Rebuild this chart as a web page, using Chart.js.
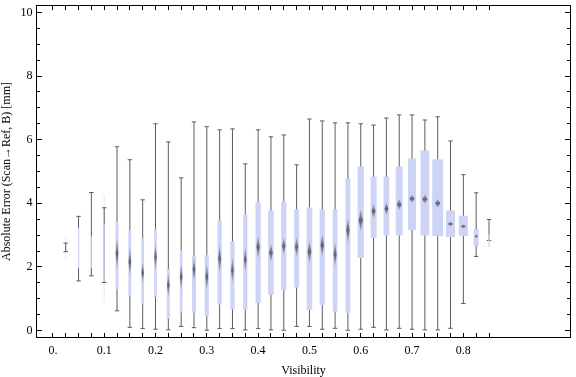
<!DOCTYPE html>
<html>
<head>
<meta charset="utf-8">
<script src="https://cdn.jsdelivr.net/npm/chart.js@4.4.1/dist/chart.umd.min.js"></script>
<style>
  html, body { margin: 0; padding: 0; background: #fff; }
  #chart { display: block; }
</style>
</head>
<body>
<canvas id="chart" width="576" height="377"></canvas>
<script>
/* Box-whisker chart: absolute error vs visibility */

// === DATA ===
const visibility = [0.025, 0.05, 0.075, 0.1, 0.125, 0.15, 0.175, 0.2, 0.225, 0.25, 0.275, 0.3,
    0.325, 0.35, 0.375, 0.4, 0.425, 0.45, 0.475, 0.5, 0.525, 0.55, 0.575, 0.6,
    0.625, 0.65, 0.675, 0.7, 0.725, 0.75, 0.775, 0.8, 0.825, 0.85];

const whiskerLo = [2.48, 1.56, 1.72, 1.51, 0.62, 0.10, 0.06, 0.04, 0.02, 0.13, 0.09, 0.01,
    0.06, 0.06, 0.02, 0.06, 0.02, 0.01, 0.13, 0.13, 0.04, 0.07, 0.01, 0.04,
    0.10, 0.02, 0.07, 0.04, 0.02, 0.02, 0.07, 0.85, 2.33, 2.83];
const whiskerHi = [2.75, 3.59, 4.34, 3.86, 5.78, 5.37, 4.11, 6.50, 5.93, 4.80, 6.56, 6.41,
    6.31, 6.34, 5.24, 6.31, 6.09, 6.15, 5.21, 6.65, 6.59, 6.53, 6.53, 6.50,
    6.46, 6.68, 6.78, 6.78, 6.62, 6.72, 5.96, 4.90, 4.33, 3.49];

const boxLo = [null, 1.96, 1.96, 1.53, 1.30, 1.08, 0.82, 1.06, 0.37, 0.56, 0.56, 0.46,
    0.81, 0.67, 0.65, 0.87, 1.12, 1.28, 1.35, 0.65, 0.81, 0.59, 0.56, 2.28,
    2.91, 2.99, 2.99, 3.16, 2.99, 2.97, 2.94, 2.97, 2.66, 2.63];
const boxHi = [null, 3.23, 2.96, 3.34, 3.43, 3.15, 2.90, 3.20, 1.93, 2.52, 2.34, 2.37,
    3.46, 2.81, 3.65, 4.03, 3.77, 4.06, 3.81, 3.87, 3.81, 3.81, 4.78, 5.16,
    4.84, 4.84, 5.16, 5.41, 5.66, 5.38, 3.78, 3.61, 3.18, 3.03];

// relative bin weight (box width share)
const binWeight = [0, 0.09, 0.09, 0.09, 0.27, 0.27, 0.25, 0.25, 0.27, 0.25, 0.36, 0.39,
    0.39, 0.39, 0.39, 0.48, 0.52, 0.48, 0.45, 0.52, 0.48, 0.43, 0.45, 0.57,
    0.55, 0.52, 0.64, 0.73, 0.79, 1.0, 0.82, 0.82, 0.45, 0.12];

// mean diamond (confidence band)
const meanLo = [null, null, null, null, 1.90, 1.69, 1.48, 1.90, 1.06, 1.27, 1.53, 1.27,
    1.79, 1.48, 1.84, 2.26, 2.16, 2.37, 2.31, 2.11, 2.31, 2.00, 2.73, 3.10,
    3.52, 3.62, 3.78, 4.01, 3.98, 3.86, 3.27, 3.21, 2.90, null];
const meanHi = [null, null, null, null, 2.94, 2.63, 2.16, 2.73, 1.79, 2.11, 2.31, 2.11,
    2.73, 2.31, 2.63, 2.99, 2.73, 2.94, 2.94, 2.84, 3.05, 2.78, 3.57, 3.83,
    3.99, 4.04, 4.14, 4.28, 4.28, 4.14, 3.43, 3.34, 3.03, null];

// faint outer range on the sparse bins
const faintLo = [2.23, null, null, 0.87];
const faintHi = [2.99, null, null, 4.27];

// ticks
const xTickValues = [0].concat(visibility);
const xLabelValues = [0, 0.1, 0.2, 0.3, 0.4, 0.5, 0.6, 0.7, 0.8];
const xLabelText = ["0.", "0.1", "0.2", "0.3", "0.4", "0.5", "0.6", "0.7", "0.8"];
const yTickValues = [0, 0.5, 1, 1.5, 2, 2.5, 3, 3.5, 4, 4.5, 5, 5.5, 6, 6.5, 7, 7.5, 8, 8.5, 9, 9.5, 10];
const yLabelValues = [0, 2, 4, 6, 8, 10];

// === STYLE ===
const SERIF = "'Liberation Serif', 'DejaVu Serif', serif";
const BOX_COLOR = '#cdd4f6';
const WHISKER_COLOR = '#5c5c5c';
const BOX_MAX_PX = 11;

// === DATASETS ===
const whiskerSet = {
    type: 'bar',
    data: visibility.map((v, i) => ({ x: v, y: [whiskerLo[i], whiskerHi[i]] })),
    backgroundColor: WHISKER_COLOR,
    barThickness: 1,
    grouped: false,
    inflateAmount: 0,
    order: 3
};

const faintSet = {
    type: 'bar',
    data: faintLo.map((lo, i) => lo == null ? null : ({ x: visibility[i], y: [lo, faintHi[i]] })).filter(Boolean),
    backgroundColor: 'rgba(150,150,150,0.22)',
    barThickness: 1,
    grouped: false,
    inflateAmount: 0,
    order: 4
};

const capSet = {
    type: 'scatter',
    data: visibility.flatMap((v, i) => [{ x: v, y: whiskerLo[i] }, { x: v, y: whiskerHi[i] }]),
    pointStyle: 'line',
    radius: 2.2,
    borderColor: WHISKER_COLOR,
    borderWidth: 1,
    order: 2
};

const boxSets = visibility.map((v, i) => ({
    type: 'bar',
    data: boxLo[i] == null ? [] : [{ x: v, y: [boxLo[i], boxHi[i]] }],
    backgroundColor: BOX_COLOR,
    barThickness: Math.max(binWeight[i] * BOX_MAX_PX, 0.5),
    grouped: false,
    inflateAmount: 0,
    order: 1
}));

// === PLUGINS ===
const diamondPlugin = {
    id: 'diamonds',
    afterDatasetsDraw(chart) {
        const { ctx, scales: { x, y } } = chart;
        ctx.save();
        visibility.forEach((v, i) => {
            if (meanLo[i] == null) return;
            const cx = x.getPixelForValue(v);
            const top = y.getPixelForValue(meanHi[i]);
            const bot = y.getPixelForValue(meanLo[i]);
            const mid = (top + bot) / 2;
            const hw = Math.min(2.6, Math.max(1.3, binWeight[i] * BOX_MAX_PX * 0.32));
            const g = ctx.createLinearGradient(0, top, 0, bot);
            g.addColorStop(0, 'rgba(120,120,130,0.35)');
            g.addColorStop(0.5, 'rgba(90,90,95,0.95)');
            g.addColorStop(1, 'rgba(120,120,130,0.35)');
            ctx.fillStyle = g;
            ctx.beginPath();
            ctx.moveTo(cx, top);
            ctx.lineTo(cx + hw, mid);
            ctx.lineTo(cx, bot);
            ctx.lineTo(cx - hw, mid);
            ctx.closePath();
            ctx.fill();
        });
        ctx.restore();
    }
};

// marco con ticks hacia dentro (estilo Mathematica)
const framePlugin = {
    id: 'frame',
    afterDraw(chart) {
        const { ctx, chartArea: a, scales: { x, y } } = chart;
        ctx.save();
        ctx.strokeStyle = '#000';
        ctx.lineWidth = 1;
        ctx.beginPath();
        x.ticks.forEach(t => {
            const px = Math.floor(x.getPixelForValue(t.value)) + 0.5;
            ctx.moveTo(px, a.bottom - 1); ctx.lineTo(px, a.bottom - 5);
            ctx.moveTo(px, a.top + 1); ctx.lineTo(px, a.top + 5);
        });
        y.ticks.forEach(t => {
            const py = Math.floor(y.getPixelForValue(t.value)) + 0.5;
            const len = yLabelValues.includes(t.value) ? 5 : 3;
            ctx.moveTo(a.left + 1, py); ctx.lineTo(a.left + 1 + len, py);
            ctx.moveTo(a.right - 1, py); ctx.lineTo(a.right - 1 - len, py);
        });
        ctx.stroke();
        ctx.strokeRect(a.left + 0.5, a.top + 0.5, a.right - a.left - 1, a.bottom - a.top - 1);
        ctx.restore();
    }
};

// === CHART ===
new Chart(document.getElementById('chart'), {
    type: 'bar',
    data: { datasets: [whiskerSet, faintSet, capSet, ...boxSets] },
    options: {
        responsive: false,
        animation: false,
        events: [],
        layout: { padding: { top: 4, left: 0, right: 0, bottom: 0 } },
        plugins: { legend: { display: false }, tooltip: { enabled: false } },
        scales: {
            x: {
                type: 'linear',
                min: -0.0329,
                max: 1.0098,
                offset: false,
                afterBuildTicks: s => { s.ticks = xTickValues.map(v => ({ value: v })); },
                afterFit: s => { s.height = 39; s.paddingLeft = 0; s.paddingRight = 0; },
                grid: { display: false, drawTicks: false },
                border: { display: false },
                ticks: {
                    autoSkip: false,
                    maxRotation: 0,
                    padding: 6,
                    color: '#000',
                    font: { family: SERIF, size: 12 },
                    callback: v => {
                        const k = xLabelValues.findIndex(t => Math.abs(t - v) < 1e-9);
                        return k < 0 ? '' : xLabelText[k];
                    }
                },
                title: {
                    display: true,
                    text: 'Visibility',
                    color: '#000',
                    padding: 0,
                    font: { family: SERIF, size: 12, lineHeight: 1 }
                }
            },
            y: {
                type: 'linear',
                min: -0.235,
                max: 10.235,
                afterBuildTicks: s => { s.ticks = yTickValues.map(v => ({ value: v })); },
                afterFit: s => { s.width = 36; s.paddingTop = 0; s.paddingBottom = 0; },
                grid: { display: false, drawTicks: false },
                border: { display: false },
                ticks: {
                    autoSkip: false,
                    padding: 3.5,
                    color: '#000',
                    font: { family: SERIF, size: 12 },
                    callback: v => yLabelValues.includes(v) ? String(v) : ''
                },
                title: {
                    display: true,
                    text: 'Absolute Error (Scan\u2192Ref, B) [mm]',
                    color: '#000',
                    padding: 0,
                    font: { family: SERIF, size: 12, lineHeight: 1.2 }
                }
            }
        }
    },
    plugins: [diamondPlugin, framePlugin]
});
</script>
</body>
</html>
